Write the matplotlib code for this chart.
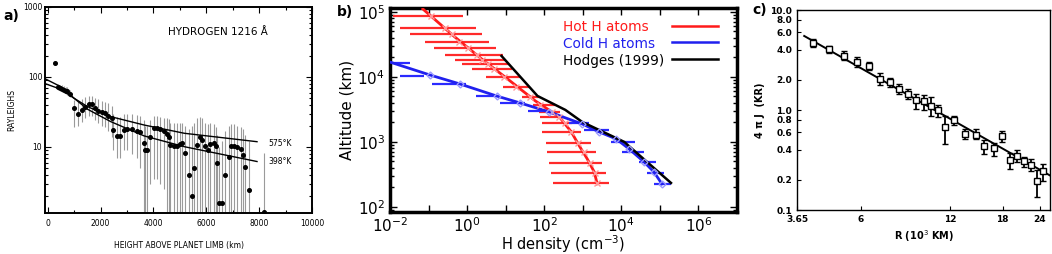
import matplotlib
matplotlib.use("Agg")
import matplotlib.pyplot as plt
from matplotlib.ticker import FixedLocator, NullLocator, LogLocator, FixedFormatter, NullFormatter, MultipleLocator

# ---------------- Panel a data (Lyman-alpha limb profile) ----------------
a_x = [280, 400, 470, 540, 610, 680, 750, 850, 1000, 1130, 1290, 1420, 1550, 1670, 1800, 1920,
       2050, 2180, 2300, 2430, 2490, 2620, 2750, 2870, 3000, 3190, 3380, 3500, 3630, 3670, 3760,
       3880, 4010, 4140, 4260, 4390, 4510, 4580, 4640, 4770, 4890, 5020, 5080, 5180, 5330, 5460,
       5520, 5650, 5780, 5840, 5970, 6070, 6160, 6290, 6350, 6410, 6470, 6600, 6720, 6850, 6920,
       7050, 7170, 7300, 7390, 7480, 7610, 8180]
a_y = [157, 72, 70, 68, 66, 64, 63, 58, 35.6, 30, 34, 37.7, 41, 41, 35.6, 33,
       32, 31, 28, 25.7, 17.5, 14.4, 14.4, 17.5, 18, 17.8, 17.2, 16.3, 11.3, 9.05, 9.05,
       13.8, 18.5, 18.5, 17.8, 17, 15.2, 14, 10.7, 10.5, 10.5, 11, 11.5, 8.1, 4.0, 2.0,
       5.0, 10.7, 13.8, 12.6, 10.2, 9.1, 11, 11.5, 10.2, 5.85, 1.57, 1.57, 4.0, 7.3, 10.2,
       10.5, 10, 9.3, 7.7, 5.2, 2.4, 1.19]
a_hi = [160, 80, 78, 76, 74, 72, 71, 66, 47, 45, 48, 52, 54, 53, 50, 48,
        46, 44, 42, 38, 30, 27, 27, 30, 30, 30, 29, 28, 24, 20, 20,
        24, 28, 28, 27, 26, 26, 25, 22, 22, 22, 22, 22, 20, 18, 20,
        22, 26, 27, 26, 22, 21, 22, 21, 19, 15, 10, 12, 17, 20, 21,
        21, 20, 19, 18, 15, 12, 8.2]
a_lo = [155, 65, 63, 61, 59, 57, 56, 51, 19.5, 20, 23, 26, 28, 28, 24, 22,
        20, 19, 17, 14, 9, 7, 7, 9, 9, 8, 7, 5, 1.0, 1.0, 1.0,
        3, 3.5, 3.5, 3, 2.5, 1.0, 1.0, 1.0, 1.0, 1.0, 1.0, 1.0, 1.0, 1.0, 1.0,
        1.0, 1.0, 1.0, 1.0, 1.0, 1.0, 1.0, 1.0, 1.0, 1.0, 1.0, 1.0, 1.0, 1.0, 1.0,
        1.0, 1.0, 1.0, 1.0, 1.0, 1.0, 1.19]
model575_x = [-130, 500, 1000, 1510, 2390, 3650, 5170, 7920]
model575_y = [95.7, 72.6, 49.7, 37.7, 27.1, 20.6, 15.7, 11.9]
model398_x = [-130, 500, 1000, 1510, 2390, 3650, 5170, 7920]
model398_y = [81.3, 66.7, 49.7, 34.6, 23.0, 14.4, 10.1, 6.2]

# ---------------- Panel b data (H density profiles) ----------------
hot_alt = [8.7e4, 5.65e4, 4.57e4, 3.44e4, 2.79e4, 2.17e4, 1.82e4, 1.58e4, 1.32e4, 9.96e3, 7.0e3,
           4.91e3, 3.70e3, 2.88e3, 2.42e3, 1.95e3, 1.42e3, 962, 700, 473, 332, 233]
hot_den = [0.115, 0.26, 0.40, 0.60, 1.05, 1.8, 2.5, 3.4, 4.9, 8.9, 19,
           42, 76, 155, 248, 355, 500, 760, 1100, 1550, 2100, 2350]
hot_lo = [0.012, 0.018, 0.033, 0.080, 0.137, 0.26, 0.48, 0.72, 1.3, 3.0, 8.3,
          26, 50, 75, 80, 90, 90, 114, 121, 136, 153, 173]
hot_hi = [0.77, 1.67, 2.5, 3.8, 5.5, 8.3, 9.9, 11.9, 15, 23, 41,
          80, 195, 250, 330, 535, 915, 1660, 2230, 3190, 4050, 4840]
hot_curve_den = [0.071, 0.48, 2.4, 11.2, 59, 247, 505, 813, 1306, 1982, 2371]
hot_curve_alt = [1.11e5, 4.11e4, 1.88e4, 9.29e3, 4.26e3, 2.42e3, 1.42e3, 865, 546, 344, 225]

cold_bar_alt = [1.64e4, 1.03e4, 7.8e3, 5.08e3, 3.96e3, 2.99e3, 1.95e3, 1.52e3, 1.0e3, 700, 491, 332, 225]
cold_lo = [0.0113, 0.018, 0.12, 1.67, 7.0, 37, 448, 1090, 5450, 1.05e4, 2.88e4, 4.65e4, 7.0e4]
cold_hi = [0.033, 0.076, 0.92, 6.2, 31, 153, 1470, 4840, 2.27e4, 3.88e4, 7.9e4, 1.28e5, 1.94e5]
cold_curve_den = [0.01, 0.108, 0.64, 5.8, 24, 136, 970, 2670, 7340, 1.59e4, 3.88e4, 7.0e4, 1.13e5]
cold_curve_alt = [1.69e4, 1.07e4, 7.8e3, 5.08e3, 3.96e3, 2.88e3, 1.88e3, 1.42e3, 1.11e3, 778, 491, 344, 225]

hodges_den = [7.8, 67, 353, 970, 1.18e4, 1.94e5]
hodges_alt = [2.1e4, 5.08e3, 3.1e3, 2.02e3, 1.0e3, 233]

legend_labels = ["Hot H atoms", "Cold H atoms", "Hodges (1999)"]
legend_colors = ["#ff1a1a", "#2020ee", "black"]

# ---------------- Panel c data ----------------
c_R = [4.12, 4.68, 5.26, 5.80, 6.38, 6.93, 7.50, 8.07, 8.65, 9.20, 9.75, 10.3, 10.9,
       11.5, 12.3, 13.4, 14.6, 15.6, 16.8, 17.9, 19.1, 20.2, 21.3, 22.5, 23.5, 24.7]
c_J = [4.70, 4.06, 3.48, 2.99, 2.76, 2.03, 1.91, 1.64, 1.46, 1.25, 1.23, 1.09, 1.0,
       0.675, 0.79, 0.58, 0.557, 0.436, 0.42, 0.545, 0.313, 0.349, 0.306, 0.279, 0.194, 0.244]
c_hi = [5.1, 4.39, 3.91, 3.35, 2.99, 2.32, 2.11, 1.84, 1.64, 1.44, 1.41, 1.35, 1.11,
        0.88, 0.88, 0.65, 0.65, 0.50, 0.47, 0.61, 0.37, 0.40, 0.34, 0.32, 0.25, 0.29]
c_lo = [4.3, 3.73, 3.15, 2.70, 2.5, 1.77, 1.70, 1.46, 1.28, 1.03, 1.0, 0.88, 0.85,
        0.46, 0.70, 0.51, 0.51, 0.36, 0.35, 0.48, 0.26, 0.30, 0.27, 0.245, 0.136, 0.197]
fit_R = [3.86, 26.1]
fit_J = [5.5, 0.22]
c_xticks = [3.65, 6, 12, 18, 24]
c_xticklabels = ["3.65", "6", "12", "18", "24"]
c_yticks = [0.1, 0.2, 0.4, 0.6, 0.8, 1.0, 2.0, 4.0, 6.0, 8.0, 10.0]
c_yticklabels = ["0.1", "0.2", "0.4", "0.6", "0.8", "1.0", "2.0", "4.0", "6.0", "8.0", "10.0"]

W, H = 1052, 254
fig = plt.figure(figsize=(W / 100, H / 100), dpi=100)
fig.patch.set_facecolor("white")

def px_axes(l, r, t, b):
    return fig.add_axes([l / W, (H - b) / H, (r - l) / W, (b - t) / H])

# ================= Panel a =================
axa = px_axes(45, 312, 7, 213)
axa.vlines(a_x, a_lo, a_hi, colors="#9a9a9a", linewidth=0.8)
axa.plot(a_x, a_y, "o", color="black", markersize=2.6, zorder=3)
axa.plot(model575_x, model575_y, "-", color="black", linewidth=1.0)
axa.plot(model398_x, model398_y, "-", color="black", linewidth=1.0)
axa.set_yscale("log")
axa.set_xlim(-100, 10000)
axa.set_ylim(1.14, 1000)
axa.xaxis.set_major_locator(FixedLocator([0, 2000, 4000, 6000, 8000, 10000]))
axa.xaxis.set_minor_locator(MultipleLocator(1000))
axa.set_xticklabels(["0", "2000", "4000", "6000", "8000", "10000"])
axa.yaxis.set_major_locator(FixedLocator([10, 100, 1000]))
axa.set_yticklabels(["10", "100", "1000"])
axa.yaxis.set_minor_locator(LogLocator(base=10, subs=range(2, 10)))
axa.yaxis.set_minor_formatter(NullFormatter())
axa.tick_params(which="both", direction="in", top=True, right=True, labelsize=5.5, width=0.8, pad=2)
axa.tick_params(axis="x", pad=4)
axa.tick_params(which="major", length=4)
axa.tick_params(which="minor", length=2.5)
for s in axa.spines.values():
    s.set_linewidth(1.4)
axa.set_xlabel("HEIGHT ABOVE PLANET LIMB (km)", fontsize=5.5, labelpad=10)
axa.set_ylabel("RAYLEIGHS", fontsize=5.5, labelpad=5)
axa.text(6440, 440, "HYDROGEN 1216 Å", fontsize=7.5, ha="center", va="center")
axa.text(8350, 11.3, "575°K", fontsize=5.5, ha="left", va="center")
axa.text(8350, 6.3, "398°K", fontsize=5.5, ha="left", va="center")
fig.text(3 / W, (H - 16) / H, "a)", fontsize=10, fontweight="bold", ha="left", va="center")

# ================= Panel b =================
axb = px_axes(390, 737, 8, 212)
axb.hlines(hot_alt, hot_lo, hot_hi, colors="#ff2a2a", linewidth=1.6, zorder=2)
axb.hlines(cold_bar_alt, cold_lo, cold_hi, colors="#2a2aff", linewidth=1.6, zorder=2)
axb.plot(hot_curve_den, hot_curve_alt, "-", color=legend_colors[0], linewidth=2.0, zorder=3)
axb.plot(hot_den, hot_alt, "x", color="#ff9a9a", markersize=4, markeredgewidth=1.0, zorder=4)
axb.plot(cold_curve_den, cold_curve_alt, "-", color=legend_colors[1], linewidth=2.0, zorder=3)
axb.plot(cold_curve_den[1:], cold_curve_alt[1:], "D", markerfacecolor="none",
         markeredgecolor="#9a9aff", markersize=3.5, markeredgewidth=1.0, zorder=4)
axb.plot(hodges_den, hodges_alt, "-", color=legend_colors[2], linewidth=1.8, zorder=3)
axb.set_xscale("log")
axb.set_yscale("log")
axb.set_xlim(1e-2, 1e7)
axb.set_ylim(10 ** 1.92, 10 ** 5.06)
axb.xaxis.set_major_locator(FixedLocator([1e-2, 1e0, 1e2, 1e4, 1e6]))
axb.xaxis.set_major_formatter(FixedFormatter(["$10^{-2}$", "$10^{0}$", "$10^{2}$", "$10^{4}$", "$10^{6}$"]))
axb.xaxis.set_minor_locator(FixedLocator([1e-1, 1e1, 1e3, 1e5]))
axb.xaxis.set_minor_formatter(NullFormatter())
axb.yaxis.set_major_locator(FixedLocator([1e2, 1e3, 1e4, 1e5]))
axb.yaxis.set_major_formatter(FixedFormatter(["$10^{2}$", "$10^{3}$", "$10^{4}$", "$10^{5}$"]))
axb.yaxis.set_minor_locator(LogLocator(base=10, subs=range(2, 10)))
axb.yaxis.set_minor_formatter(NullFormatter())
axb.tick_params(which="both", direction="in", top=True, right=True, labelsize=11, width=1.0)
axb.tick_params(axis="x", pad=3)
axb.tick_params(which="major", length=5)
axb.tick_params(axis="x", which="minor", length=5)
axb.tick_params(axis="y", which="minor", length=3)
for s in axb.spines.values():
    s.set_linewidth(2.5)
axb.set_xlabel("H density (cm$^{-3}$)", fontsize=10.5, labelpad=-1)
axb.set_ylabel("Altitude (km)", fontsize=11, labelpad=2)
# legend: left-aligned coloured labels, line samples to the right
leg_text_x = (563 - 390) / 347
leg_line_x = [(672 - 390) / 347, (718 - 390) / 347]
leg_rows_y = [(212 - 27) / 204, (212 - 44) / 204, (212 - 61.5) / 204]
leg_line_dy = [1.5 / 204, 2.5 / 204, 3.0 / 204]
for lab, col, yy, dy in zip(legend_labels, legend_colors, leg_rows_y, leg_line_dy):
    axb.text(leg_text_x, yy, lab, color=col, fontsize=9.8, ha="left", va="center",
             transform=axb.transAxes)
    axb.plot(leg_line_x, [yy + dy, yy + dy], color=col, linewidth=1.8,
             transform=axb.transAxes, clip_on=False)
fig.text(337 / W, (H - 12) / H, "b)", fontsize=10, fontweight="bold", ha="left", va="center")

# ================= Panel c =================
axc = px_axes(797, 1050, 10, 210)
yerr_lo = [j - lo for j, lo in zip(c_J, c_lo)]
yerr_hi = [hi - j for j, hi in zip(c_J, c_hi)]
axc.plot(fit_R, fit_J, "-", color="black", linewidth=1.4, zorder=2)
axc.errorbar(c_R, c_J, yerr=[yerr_lo, yerr_hi], fmt="s", color="black", markerfacecolor="white",
             markeredgecolor="black", markersize=4, markeredgewidth=1.0, elinewidth=1.3,
             capsize=2.5, capthick=1.2, zorder=3)
axc.set_xscale("log")
axc.set_yscale("log")
axc.set_xlim(3.65, 26)
axc.set_ylim(0.1, 10)
axc.xaxis.set_major_locator(FixedLocator(c_xticks))
axc.xaxis.set_major_formatter(FixedFormatter(c_xticklabels))
axc.xaxis.set_minor_locator(NullLocator())
axc.yaxis.set_major_locator(FixedLocator(c_yticks))
axc.yaxis.set_major_formatter(FixedFormatter(c_yticklabels))
axc.yaxis.set_minor_locator(NullLocator())
axc.tick_params(which="both", direction="in", length=3, labelsize=6.5, width=0.8)
for lab in axc.get_xticklabels() + axc.get_yticklabels():
    lab.set_fontweight("bold")
for s in axc.spines.values():
    s.set_linewidth(1.0)
axc.set_xlabel("R (10$^3$ KM)", fontsize=7, fontweight="bold", labelpad=3)
axc.set_ylabel("4 π J  (KR)", fontsize=7, fontweight="bold", labelpad=4)
fig.text(752 / W, (H - 10) / H, "c)", fontsize=10, fontweight="bold", ha="left", va="center")

fig.savefig("out.png", dpi=100, facecolor="white")
